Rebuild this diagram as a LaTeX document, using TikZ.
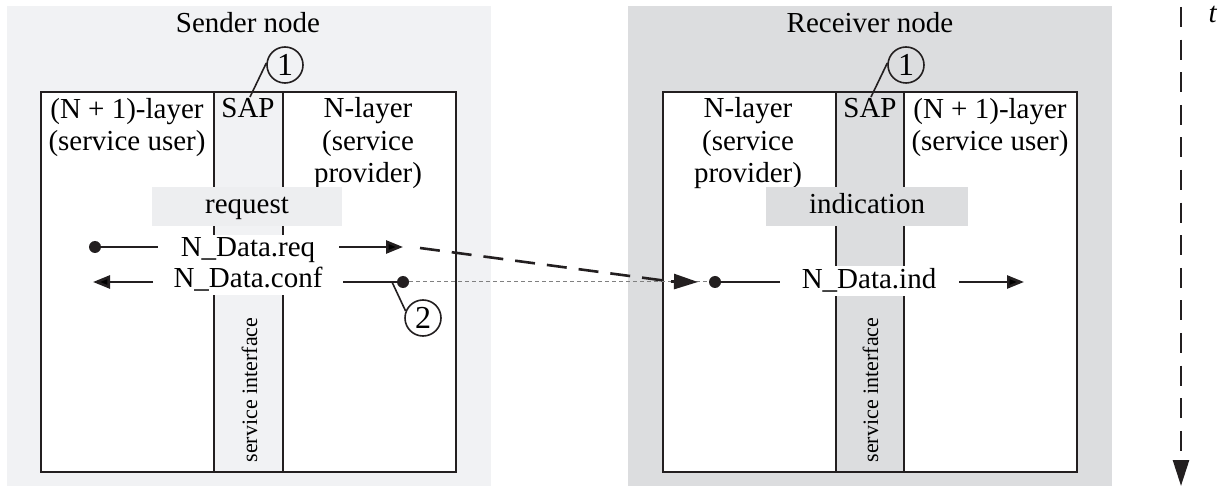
\documentclass[tikz,border=0pt]{standalone}
\usepackage{fontspec}
\setmainfont{Liberation Serif}
\usetikzlibrary{arrows.meta, positioning}
\tikzset{
    %Define standard arrow tip
    >={Triangle[length=8.5pt,width=6.5pt]},
}
\definecolor{sendbg}{RGB}{241,242,244}
\definecolor{sendbox}{RGB}{237,238,240}
\definecolor{recvbg}{RGB}{220,221,223}
\definecolor{ink}{RGB}{35,31,32}

\begin{document}
\begin{tikzpicture}[x=0.5pt, y=-0.5pt, font=\fontsize{14.5}{16.25}\selectfont]
    \tikzset{
      bg/.style={anchor=north west, inner sep=0, outer sep=0,
                 minimum width=242pt, minimum height=240pt},
      lay/.style={draw=ink, fill=white, line width=1pt, anchor=north west,
                  inner sep=0, outer sep=0, minimum height=190pt},
      prim/.style={inner sep=0, minimum width=95pt, minimum height=19.5pt,
                   text height=10pt, text depth=3pt},
      sig/.style={fill=white, inner sep=1.5pt, anchor=base},
      lbl/.style={align=center, anchor=base, inner sep=0},
      dot/.style={circle, fill=ink, inner sep=0, minimum size=6pt},
      num/.style={circle, draw=ink, line width=0.8pt, inner sep=0,
                  minimum size=18pt, font=\fontsize{16}{16}\selectfont},
      flow/.style={draw=ink, line width=1.3pt},
      vert/.style={rotate=90, anchor=base, font=\fontsize{11}{13}\selectfont}
    }
    \useasboundingbox (0,0) rectangle (1227,486);

    % sender node
    \node [bg, fill=sendbg] (sender) at (7,6) {};
    \node [lay, minimum width=86.5pt] (s-user) at (41,92) {};
    \node [lay, minimum width=34.5pt, fill=sendbg] (s-sap) at (s-user.north east) {};
    \node [lay, minimum width=86.5pt] (s-prov) at (s-sap.north east) {};

    \node [anchor=base] (s-title) at (248,33) {Sender node};
    \node [lbl] (s-user-txt) at (127,151) {(N + 1)-layer\\(service user)};
    \node [lbl] (s-sap-txt) at (248,118) {SAP};
    \node [lbl] (s-prov-txt) at (368,183) {N-layer\\(service\\provider)};
    \node [vert] (s-si) at (257,390) {service interface};

    \node [prim, fill=sendbox] (s-req-box) at (247,206.5) {request};

    % receiver node
    \node [bg, fill=recvbg] (receiver) at (628,6) {};
    \node [lay, minimum width=86.5pt] (r-prov) at (663,92) {};
    \node [lay, minimum width=34pt, fill=recvbg] (r-sap) at (r-prov.north east) {};
    \node [lay, minimum width=86.5pt] (r-user) at (r-sap.north east) {};

    \node [anchor=base] (r-title) at (870,33) {Receiver node};
    \node [lbl] (r-prov-txt) at (748,183) {N-layer\\(service\\provider)};
    \node [lbl] (r-sap-txt) at (870,118) {SAP};
    \node [lbl] (r-user-txt) at (990,151) {(N + 1)-layer\\(service user)};
    \node [vert] (r-si) at (878,390) {service interface};

    \node [prim, fill=recvbg, minimum width=101pt] (r-ind-box) at (867,206.5) {indication};

    % service access points
    \node [num] (s-one) at (285,65) {1};
    \coordinate (s-sap-pt) at (250,97);
    \draw [ink, line width=0.8pt] (s-one.174) -- (s-sap-pt);
    \node [num] (r-one) at (906,65) {1};
    \coordinate (r-sap-pt) at (871,97);
    \draw [ink, line width=0.8pt] (r-one.174) -- (r-sap-pt);

    % primitives
    \node [sig] (s-req) at (248,257) {N\_Data.req};
    \node [sig] (s-conf) at (248,288) {N\_Data.conf};
    \node [sig] (r-ind) at (869,289) {N\_Data.ind};

    \coordinate (s-req-a) at (158,247);
    \coordinate (s-req-b) at (339,247);
    \coordinate (s-req-c) at (403,247);
    \coordinate (s-out) at (420,248);
    \coordinate (s-conf-tip) at (93,282);
    \coordinate (s-conf-a) at (153,282);
    \coordinate (s-conf-b) at (343,282);
    \coordinate (s-conf-c) at (392,282);
    \coordinate (r-in) at (671,281.5);
    \coordinate (r-tip) at (698,282);
    \coordinate (r-ind-a) at (780,282);
    \coordinate (r-ind-b) at (959,282);
    \coordinate (r-ind-c) at (1024,282);

    \node [dot] (s-req-dot) at (95,247) {};
    \node [dot] (s-conf-dot) at (403,282) {};
    \node [dot] (r-dot) at (715,282) {};

    \draw [gray, line width=0.5pt, dash pattern=on 2pt off 1.5pt] (s-conf-dot) -- (r-dot);

    \path [flow] (s-req-dot) edge (s-req-a)
                 (s-req-b) edge [->] (s-req-c)
                 (s-conf-a) edge [->] (s-conf-tip)
                 (s-conf-b) edge (s-conf-dot)
                 (r-dot) edge (r-ind-a)
                 (r-ind-b) edge [->] (r-ind-c);
    \draw [flow, dash pattern=on 10pt off 6pt] (s-out) -- (r-in);
    \draw [flow, -{Triangle[length=12pt,width=7.5pt]}] (r-in) -- (r-tip);

    \node [num] (s-two) at (423,318) {2};
    \draw [ink, line width=0.8pt] (s-conf-c) -- (s-two.158);

    % time axis
    \coordinate (t-top) at (1181,7);
    \coordinate (t-bot) at (1181,486);
    \draw [ink, line width=1.3pt, dash pattern=on 10pt off 6.3pt,
           -{Triangle[length=13pt,width=8pt]}] (t-top) -- (t-bot);
    \node [anchor=base] (t-lbl) at (1213,23) {\textit{t}};
\end{tikzpicture}
\end{document}
